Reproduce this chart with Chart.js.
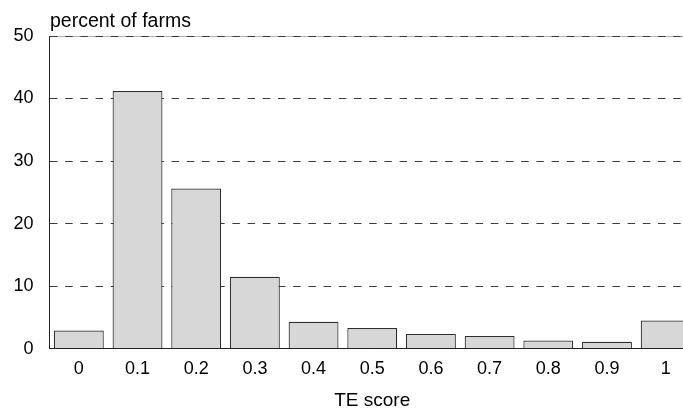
<!DOCTYPE html>
<html>
<head>
<meta charset="utf-8">
<script src="https://cdn.jsdelivr.net/npm/chart.js@4/dist/chart.umd.min.js"></script>
<style>
  html, body { margin: 0; padding: 0; background: #fff; overflow: hidden; }
  #wrap { width: 698px; height: 411px; }
</style>
</head>
<body>
<div id="wrap"><canvas id="teChart" width="698" height="411"></canvas></div>
<script>
const scoreLabels = ["0", "0.1", "0.2", "0.3", "0.4", "0.5", "0.6", "0.7", "0.8", "0.9", "1"];
const farmPercent = [2.9, 41.2, 25.6, 11.5, 4.3, 3.3, 2.35, 2.0, 1.3, 1.1, 4.5];
const yTicks = [0, 10, 20, 30, 40, 50];

const fontFamily = "'Liberation Sans', Arial, sans-serif";

// light frame line along the top of the plot, under the dashed 50 line
const topFramePlugin = {
  id: "topFrame",
  beforeDraw(chart) {
    const c = chart.ctx;
    const area = chart.chartArea;
    c.save();
    c.strokeStyle = "#b0b0b0";
    c.lineWidth = 1;
    c.beginPath();
    c.moveTo(area.left, Math.round(area.top) + 0.5);
    c.lineTo(area.right, Math.round(area.top) + 0.5);
    c.stroke();
    c.restore();
  }
};

// writes "percent of farms" just above the plot, flush with the y axis
const yTitlePlugin = {
  id: "yTitle",
  afterDraw(chart) {
    const c = chart.ctx;
    const area = chart.chartArea;
    c.save();
    c.font = "19.5px " + fontFamily;
    c.fillStyle = "#000";
    c.textAlign = "left";
    c.textBaseline = "alphabetic";
    c.fillText("percent of farms", area.left + 0.5, area.top - 9);
    c.restore();
  }
};

const ctx = document.getElementById("teChart").getContext("2d");
new Chart(ctx, {
  type: "bar",
  data: {
    labels: scoreLabels,
    datasets: [{
      data: farmPercent,
      backgroundColor: "#d7d7d7",
      borderColor: "#2e2e2e",
      borderWidth: 1.2,
      barPercentage: 0.85,
      categoryPercentage: 1.0
    }]
  },
  options: {
    responsive: false,
    animation: false,
    devicePixelRatio: 1,
    layout: { padding: { left: 13, right: 3, top: 36, bottom: 0 } },
    plugins: {
      legend: { display: false },
      tooltip: { enabled: false }
    },
    scales: {
      x: {
        grid: { display: false, drawTicks: false },
        border: { display: true, color: "#222", width: 1 },
        ticks: { color: "#000", font: { family: fontFamily, size: 18 }, padding: 10, maxRotation: 0 },
        title: { display: true, text: "TE score", color: "#000", font: { family: fontFamily, size: 19 }, padding: { top: -1, bottom: -1 } }
      },
      y: {
        min: 0,
        max: 50,
        afterBuildTicks: (axis) => { axis.ticks = yTicks.map(v => ({ value: v })); },
        afterFit: (axis) => { axis.width = 36.5; },
        grid: { color: "#3c3c3c", lineWidth: 1, drawTicks: false },
        border: { display: true, color: "#222", width: 1, dash: [7.5, 7.7] },
        ticks: { color: "#000", font: { family: fontFamily, size: 18 }, padding: 16 }
      }
    }
  },
  plugins: [topFramePlugin, yTitlePlugin]
});
</script>
</body>
</html>
